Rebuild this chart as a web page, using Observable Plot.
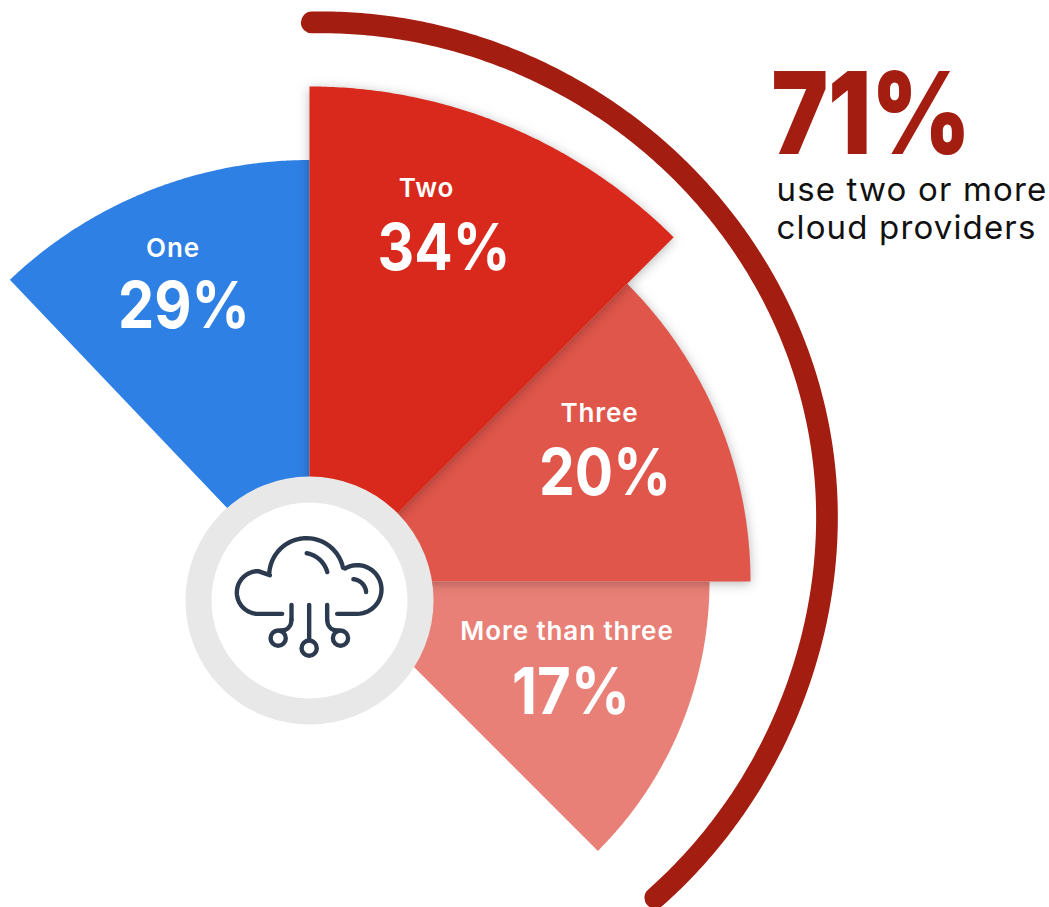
<!DOCTYPE html>
<html>
<head>
<meta charset="utf-8">
<script src="https://cdn.jsdelivr.net/npm/d3@7"></script>
<script src="https://cdn.jsdelivr.net/npm/@observablehq/plot@0.6"></script>
<style>
html,body{margin:0;padding:0;background:#fff}
svg{display:block}
.spaced text{letter-spacing:.035em}
</style>
</head>
<body>
<div id="chart"></div>
<script>
const categories = ["One", "Two", "Three", "More than three"];
const shares = [29, 34, 20, 17];
const multiCloudShare = shares[1] + shares[2] + shares[3];
const calloutLines = ["use two or more", "cloud providers"];
const wedgeColors = ["#2F80E4", "#D9291C", "#E0564B", "#E98077"];

// layout of the fan
const wedgeLayout = [
  {cx: 309, cy: 594, r: 434.5, a0: -43.6, a1: 0},
  {cx: 309, cy: 601, r: 515, a0: 0, a1: 45},
  {cx: 329, cy: 581, r: 421, a0: 45, a1: 90},
  {cx: 328, cy: 581, r: 381, a0: 90, a1: 135}
];
const nameLayout = [[172.5, 256], [426, 196], [599, 421], [566.5, 639]];
const shareLayout = [[183.5, 327], [443.5, 269], [604.5, 494], [570.5, 713]];
const shareWidths = [132, 133, 132, 118];

// the outer bracket: its radius
const bracketRadii = [496.5, 491, 492, 495.5, 493, 498];
const bracketSweep = {cx: 332, cy: 518, a0: -2.4, a1: 139.6};

const polar = (cx, cy, r, a) => {
  const t = a * Math.PI / 180;
  return {x: cx + r * Math.sin(t), y: cy - r * Math.cos(t)};
};
const arc = (cx, cy, r, a0, a1, n = 60) =>
  d3.range(n + 1).map(i => polar(cx, cy, r, a0 + (a1 - a0) * i / n));
const wedge = (w, name) =>
  [{x: w.cx, y: w.cy}, ...arc(w.cx, w.cy, w.r, w.a0, w.a1, 120), {x: w.cx, y: w.cy}].map(p => ({...p, name}));
const wedgeMark = (i, shadow) => Plot.line(wedge(wedgeLayout[i], categories[i]), {
  x: "x", y: "y", fill: wedgeColors[i], stroke: "none", curve: "linear",
  ...(shadow ? {imageFilter: "drop-shadow(0px 2px 6px rgba(0,0,0,.28))"} : {})
});
const radiusAlong = d3.interpolateBasis(bracketRadii);
const bracket = d3.range(301).map(i => {
  const t = i / 300, s = bracketSweep;
  return polar(s.cx, s.cy, radiusAlong(t), s.a0 + (s.a1 - s.a0) * t);
});
// narrow the glyphs to the reference's width
const fitWidths = widths => (index, scales, values, dimensions, context, next) => {
  const g = next(index, scales, values, dimensions, context);
  g.querySelectorAll("text").forEach((t, i) => {
    t.setAttribute("textLength", widths[i]);
    t.setAttribute("lengthAdjust", "spacingAndGlyphs");
  });
  return g;
};

// icon: drawn in its own unit space, 3 units to a pixel
const ix = u => 180 + u / 3, iy = v => 470 + v / 3;
const ipts = pts => pts.map(([u, v]) => ({x: ix(u), y: iy(v)}));
const iarc = (cx, cy, r, a0, a1) => arc(ix(cx), iy(cy), r / 3, a0, a1, 30);
const iconPaths = [
  [...ipts([[305, 430]]), ...iarc(233, 366, 64, 180, 360), ...ipts([[268, 314]]), ...iarc(378, 315, 112, -88, 78), ...iarc(530, 357, 73, -30, 180), ...ipts([[470, 430]])],
  iarc(365, 325, 78, 10, 75),
  iarc(515, 368, 42, 5, 85),
  ipts([[386, 403], [386, 510]]),
  ipts([[333, 403], [333, 448]]),
  ipts([[440, 403], [440, 448]])
];
const iconCurves = [
  ipts([[333, 448], [329, 465], [315, 478], [300, 480]]),
  ipts([[440, 448], [444, 465], [458, 478], [473, 480]])
];
const iconRings = ipts([[293, 503], [386, 533], [480, 503]]);
const iconColor = "#2B3A4E";
const iconLine = pts => Plot.line(pts, {x: "x", y: "y", stroke: iconColor, strokeWidth: 4.4, strokeLinecap: "round", strokeLinejoin: "round", curve: "linear"});

const chart = Plot.plot({
  width: 1049, height: 907,
  margin: 0,
  x: {type: "linear", domain: [0, 1049], range: [0, 1049], axis: null},
  y: {type: "linear", domain: [0, 907], range: [0, 907], axis: null},
  style: {background: "#fff"},
  marks: [
    Plot.line(bracket, {x: "x", y: "y", stroke: "#A31D11", strokeWidth: 21.7, strokeLinecap: "round", curve: "linear"}),
    wedgeMark(3, false),
    wedgeMark(2, true),
    wedgeMark(0, false),
    wedgeMark(1, true),
    Plot.dot([{x: 309, y: 600}], {x: "x", y: "y", r: 111, fill: "#fff", stroke: "#E8E8E8", strokeWidth: 26}),
    ...iconPaths.map(iconLine),
    ...iconCurves.map(p => Plot.line(p, {x: "x", y: "y", stroke: iconColor, strokeWidth: 4.4, strokeLinecap: "round", curve: "catmull-rom"})),
    Plot.dot(iconRings, {x: "x", y: "y", r: 7.6, fill: "#fff", stroke: iconColor, strokeWidth: 4.4}),
    Plot.text(categories, {x: (d, i) => nameLayout[i][0], y: (d, i) => nameLayout[i][1], text: d => d, fill: "#fff", fontFamily: "Inter", fontWeight: 600, fontSize: 26, textAnchor: "middle", lineAnchor: "bottom", className: "spaced"}),
    Plot.text(shares, {x: (d, i) => shareLayout[i][0], y: (d, i) => shareLayout[i][1], text: d => d + "%", fill: "#fff", fontFamily: "Inter", fontWeight: 700, fontSize: 65, textAnchor: "middle", lineAnchor: "bottom", render: fitWidths(shareWidths)}),
    Plot.text([multiCloudShare], {x: () => 771, y: () => 153, text: d => d + "%", fill: "#A31D11", fontFamily: "Inter", fontWeight: 900, fontSize: 114, textAnchor: "start", lineAnchor: "bottom", render: fitWidths([199])}),
    Plot.text(calloutLines, {x: () => 776, y: (d, i) => [200, 238][i], text: d => d, fill: "#111", fontFamily: "Inter", fontWeight: 400, fontSize: 33, textAnchor: "start", lineAnchor: "bottom", className: "spaced"})
  ]
});
document.getElementById("chart").appendChild(chart);
</script>
</body>
</html>
